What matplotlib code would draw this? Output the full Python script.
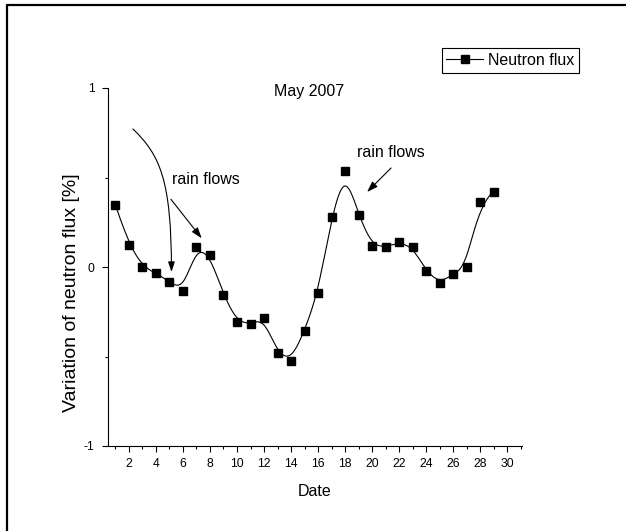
import numpy as np
import matplotlib
matplotlib.use("Agg")
import matplotlib.pyplot as plt
from matplotlib.lines import Line2D
from matplotlib.patches import FancyArrowPatch
from matplotlib.path import Path
from matplotlib.ticker import MultipleLocator, FixedLocator

plt.rcParams['font.family'] = ['Liberation Sans', 'DejaVu Sans']

# ---- data ----
dates = list(range(1, 30))
flux = [0.346, 0.123, 0.002, -0.035, -0.082, -0.132, 0.113, 0.065, -0.156,
        -0.306, -0.318, -0.287, -0.482, -0.523, -0.356, -0.144, 0.281, 0.536,
        0.291, 0.119, 0.112, 0.138, 0.112, -0.022, -0.091, -0.039, -0.002,
        0.361, 0.421]
x_ticks = list(range(2, 31, 2))
y_ticks = [-1, 0, 1]
series_label = "Neutron flux"
title_text = "May 2007"
note_text = "rain flows"


def bspline(px, py, num=600):
    """Clamped uniform cubic B-spline using the points as control points."""
    P = np.column_stack([px, py]).astype(float)
    n = len(P)
    k = 3
    inner = np.arange(1, n - k)
    knots = np.concatenate([[0] * (k + 1), inner, [n - k] * (k + 1)]).astype(float)
    ts = np.linspace(0, n - k, num)
    out = []
    for t in ts:
        if t >= knots[n]:
            s = n - 1
        else:
            s = np.searchsorted(knots, t, side='right') - 1
        d = [P[j + s - k].copy() for j in range(k + 1)]
        for r in range(1, k + 1):
            for j in range(k, r - 1, -1):
                i = j + s - k
                denom = knots[i + k + 1 - r] - knots[i]
                a = 0.0 if denom == 0 else (t - knots[i]) / denom
                d[j] = (1 - a) * d[j - 1] + a * d[j]
        out.append(d[k])
    out = np.array(out)
    return out[:, 0], out[:, 1]


W, H = 626, 531
fig = plt.figure(figsize=(W / 100, H / 100), dpi=100)
ax = fig.add_axes([108 / W, (H - 446) / H, (522 - 108) / W, (446 - 88) / H])

sx, sy = bspline(dates, flux)
ax.plot(sx, sy, color='black', lw=0.8)
ax.plot(dates, flux, 's', color='black', ms=6, lw=0)

ax.set_xlim(0.45, 31.1)
ax.set_ylim(-1, 1)
ax.xaxis.set_major_locator(FixedLocator(x_ticks))
ax.xaxis.set_minor_locator(MultipleLocator(1))
ax.yaxis.set_major_locator(FixedLocator(y_ticks))
ax.yaxis.set_minor_locator(FixedLocator([-0.5, 0.5]))
ax.set_xticklabels([str(v) for v in x_ticks])
ax.set_yticklabels([str(v) for v in y_ticks])

for s in ['top', 'right']:
    ax.spines[s].set_visible(False)
for s in ['left', 'bottom']:
    ax.spines[s].set_linewidth(0.8)

ax.tick_params(which='major', direction='out', length=4.3, width=0.8,
               labelsize=8.7, colors='black')
ax.tick_params(which='minor', direction='out', length=2.2, width=0.8)
ax.tick_params(axis='x', which='major', pad=4.0)
ax.tick_params(axis='y', which='major', pad=5.5)

ax.set_xlabel("Date", fontsize=11.5)
ax.set_ylabel("Variation of neutron flux [%]", fontsize=14)
ax.xaxis.set_label_coords(0.5, -0.105)
ax.yaxis.set_label_coords(-0.068, 0.427)

# texts
ax.text(15.33, 0.979, title_text, fontsize=11.5, ha='center', va='center')
ax.text(5.19, 0.49, note_text, fontsize=11.5, ha='left', va='center')
ax.text(18.9, 0.639, note_text, fontsize=11.5, ha='left', va='center')


def pd(px, py):
    return ((px - 102) / 13.5, (267 - py) / 179.0)


# curved arrow
verts = [pd(133, 129), pd(160, 155), pd(171.5, 180), pd(171.5, 272)]
path = Path(verts, [Path.MOVETO, Path.CURVE4, Path.CURVE4, Path.CURVE4])
arr1 = FancyArrowPatch(path=path, arrowstyle='-|>,head_length=6,head_width=2',
                       color='black', lw=0.8, shrinkA=0, shrinkB=0)
ax.add_patch(arr1)
ax.annotate('', xy=pd(201.7, 238.3), xytext=pd(171, 199.3),
            arrowprops=dict(arrowstyle='-|>,head_length=0.65,head_width=0.22',
                            color='black', lw=0.8, shrinkA=0, shrinkB=0))
ax.annotate('', xy=pd(367, 192), xytext=pd(391, 168),
            arrowprops=dict(arrowstyle='-|>,head_length=0.65,head_width=0.22',
                            color='black', lw=0.8, shrinkA=0, shrinkB=0))

# legend
handle = Line2D([], [], color='black', lw=0.8, marker='s', ms=5.8)
leg = ax.legend([handle], [series_label], loc='upper right',
                bbox_to_anchor=(579 / W, 1 - 48 / H), bbox_transform=fig.transFigure,
                borderaxespad=0, fancybox=False, framealpha=1, edgecolor='black',
                fontsize=11.5, handlelength=2.3, handletextpad=0.3,
                borderpad=0.3)
leg.get_frame().set_linewidth(0.8)

# outer frame (left and top)
fig.add_artist(Line2D([7 / W, 7 / W, 1.0], [0.0, 1 - 5 / H, 1 - 5 / H],
                      transform=fig.transFigure, color='black', lw=1.6))

fig.savefig("out.png", dpi=100)
